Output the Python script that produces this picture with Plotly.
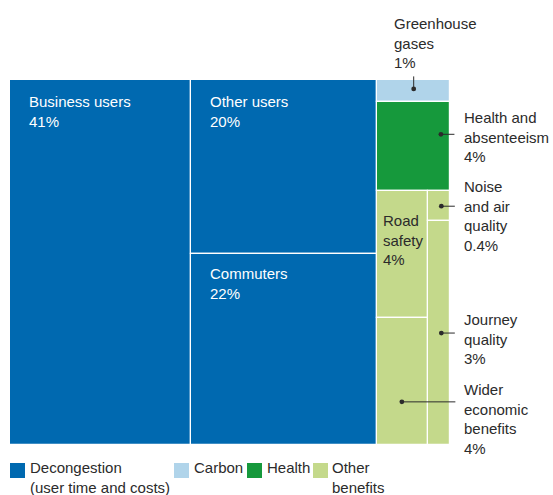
import plotly.graph_objects as go

W, H = 553, 495

# ---------------- data ----------------
decongestion_labels = ["Business users", "Other users", "Commuters"]
decongestion_values = [41, 20, 22]
carbon_labels = ["Greenhouse gases"]
carbon_values = [1]
health_labels = ["Health and absenteeism"]
health_values = [4]
other_labels = ["Road safety", "Wider economic benefits", "Noise and air quality", "Journey quality"]
other_values = [4, 4, 0.4, 3]
group_names = ["Decongestion", "Carbon", "Health", "Other"]
legend_labels = ["Decongestion<br>(user time and costs)", "Carbon", "Health", "Other<br>benefits"]

# ---------------- styles ----------------
COLORS = {"Decongestion": "#0069B0", "Carbon": "#B0D4EA", "Health": "#16993C", "Other": "#C4D98B"}
FONT = "Liberation Sans, Arial, sans-serif"
DARK = "#2b2b2b"
FS = 15

groups = {
    "Decongestion": (decongestion_labels, decongestion_values),
    "Carbon": (carbon_labels, carbon_values),
    "Health": (health_labels, health_values),
    "Other": (other_labels, other_values),
}
leaf = {}
for g, (labs, vals) in groups.items():
    for l, v in zip(labs, vals):
        leaf[l] = (v, g)

# slice-and-dice structure (columns, then rows, ...)
tree = [
    ["Business users"],
    ["Other users", "Commuters"],
    ["Greenhouse gases", "Health and absenteeism",
     [["Road safety", "Wider economic benefits"], ["Noise and air quality", "Journey quality"]]],
]


def val(node):
    if isinstance(node, str):
        return leaf[node][0]
    return sum(val(n) for n in node)


rects = {}


def place(node, x0, x1, y0, y1, horiz):
    if isinstance(node, str):
        rects[node] = (x0, x1, y0, y1)
        return
    tot = val(node)
    pos = x0 if horiz else y0
    for child in node:
        f = val(child) / tot
        if horiz:
            w = (x1 - x0) * f
            place(child, pos, pos + w, y0, y1, False)
            pos += w
        else:
            h = (y1 - y0) * f
            place(child, x0, x1, pos, pos + h, True)
            pos += h


place(tree, 0, 100, 0, 100, True)

fig = go.Figure()
for g in group_names:
    labs, vals = groups[g]
    xs, ys, bases, widths = [], [], [], []
    for name in labs:
        x0, x1, y0, y1 = rects[name]
        xs.append((x0 + x1) / 2)
        widths.append(x1 - x0)
        bases.append(y0)
        ys.append(y1 - y0)
    fig.add_bar(x=xs, y=ys, base=bases, width=widths, name=g,
                marker=dict(color=COLORS[g], line=dict(color="white", width=1.2)),
                hovertext=[f"{n}: {v:g}%" for n, v in zip(labs, vals)],
                hoverinfo="text", showlegend=False)


def pct(name):
    return f"{leaf[name][0]:g}%"


def px(x):
    return x / W


def py(y):
    return 1 - y / H


annotations = []

# labels inside rectangles
inside = {
    "Business users": ("Business users", "white", 17, -11),
    "Other users": ("Other users", "white", 17, -11),
    "Commuters": ("Commuters", "white", 17, -9),
    "Road safety": ("Road<br>safety", DARK, 4, -19),
}
for name, (txt, col, xs_, ys_) in inside.items():
    x0, x1, y0, y1 = rects[name]
    annotations.append(dict(x=x0, y=y0, xref="x", yref="y", xanchor="left", yanchor="top",
                            text=f"{txt}<br>{pct(name)}", showarrow=False, align="left",
                            xshift=xs_, yshift=ys_, font=dict(color=col, size=FS, family=FONT)))

# labels outside with leader lines
outside = {
    "Greenhouse gases": ("Greenhouse<br>gases", 392, 13),
    "Health and absenteeism": ("Health and<br>absenteeism", 462, 107),
    "Noise and air quality": ("Noise<br>and air<br>quality", 462, 176),
    "Journey quality": ("Journey<br>quality", 462, 309),
    "Wider economic benefits": ("Wider<br>economic<br>benefits", 462, 379),
}
for name, (txt, lx, ly) in outside.items():
    annotations.append(dict(x=px(lx), y=py(ly), xref="paper", yref="paper", xanchor="left",
                            yanchor="top", text=f"{txt}<br>{pct(name)}", showarrow=False,
                            align="left", font=dict(color=DARK, size=FS, family=FONT)))

# leader dots (relative position inside rect) and tail offsets in px
leaders = {
    "Greenhouse gases": (0.5, 0.4, 0, -14),
    "Health and absenteeism": (0.875, 0.36, 15, 0),
    "Noise and air quality": (0.6, 0.5, 15, 0),
    "Journey quality": (0.6, 0.5, 15, 0),
    "Wider economic benefits": (0.48, 0.66, 55, 0),
}
for name, (fx, fy, ax, ay) in leaders.items():
    x0, x1, y0, y1 = rects[name]
    annotations.append(dict(x=x0 + fx * (x1 - x0), y=y0 + fy * (y1 - y0), xref="x", yref="y",
                            text="", showarrow=True, arrowhead=6, arrowsize=1.2, arrowwidth=1,
                            arrowcolor=DARK, ax=ax, ay=ay, standoff=0, startstandoff=0))

# manual legend
shapes = []
legend_pos = [(10, 29), (174, 193), (247, 266), (313, 331)]
for g, lab, (sx, tx) in zip(group_names, legend_labels, legend_pos):
    shapes.append(dict(type="rect", xref="paper", yref="paper", x0=px(sx), x1=px(sx + 15),
                       y0=py(478), y1=py(463), fillcolor=COLORS[g], line=dict(width=0)))
    annotations.append(dict(x=px(tx - 1), y=py(457), xref="paper", yref="paper", xanchor="left",
                            yanchor="top", text=lab, showarrow=False, align="left",
                            font=dict(color=DARK, size=FS, family=FONT)))

fig.update_layout(
    width=W, height=H, margin=dict(l=0, r=0, t=0, b=0),
    paper_bgcolor="white", plot_bgcolor="white",
    barmode="overlay", bargap=0,
    xaxis=dict(domain=[px(10), px(450)], range=[0, 100], visible=False, fixedrange=True),
    yaxis=dict(domain=[py(445), py(80)], range=[100, 0], visible=False, fixedrange=True),
    annotations=annotations, shapes=shapes,
    font=dict(family=FONT, size=FS, color=DARK),
)

fig.write_html("out.html", config={"displayModeBar": False},
               post_script="document.body.style.margin='0px';document.body.style.overflow='hidden';")
